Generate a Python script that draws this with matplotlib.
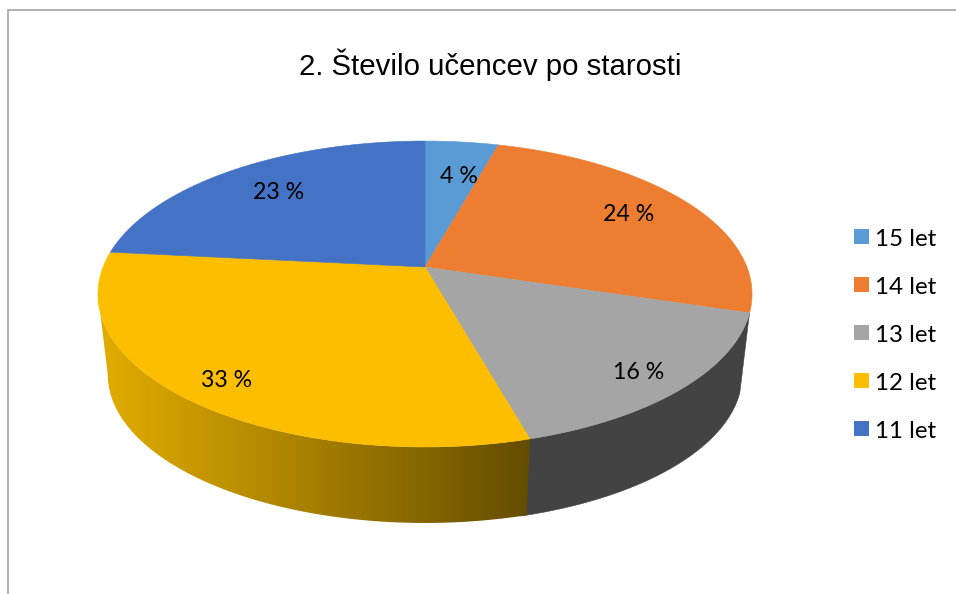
import numpy as np
import matplotlib
matplotlib.use('Agg')
import matplotlib.pyplot as plt
from matplotlib.patches import Polygon, Rectangle

# slices in drawing order, clockwise from the top
categories = ['15 let', '14 let', '13 let', '12 let', '11 let']
shares = [4, 24, 16, 33, 23]
colors = ['#5B9BD5', '#ED7D31', '#A5A5A5', '#FDBE00', '#4472C4']
title = '2. Število učencev po starosti'

# how far out along the slice each label sits (0 = centre, 1 = rim)
label_radius = [0.72, 0.76, 0.86, 0.86, 0.73]
# small nudge in pixels on top of that
label_dx = [6, 0, -2, 5, 1]
label_dy = [3.5, -2.5, 2.5, 3.5, -2.5]

# tilted pie: apex and rim in pixels of the picture
cx, cy = 425, 267
rx_base, ry_base = 321.9, 148.2
persp = 0.1765
depth_y = 81.4
depth_scale = 0.97


def warp(theta):
    # office 3d pies do not keep the angles, this follows what it draws
    t = np.radians(theta)
    return theta + 3.5 * np.sin(t) + 2.5 * (1 - np.cos(t)) + 0.3 * np.sin(2 * t)


def project(theta, r=1.0, bottom=False):
    t = np.radians(warp(np.asarray(theta, dtype=float)))
    x, y = r * np.sin(t), r * np.cos(t)
    w = 1 + persp * y
    sx, sy = rx_base * x / w, -ry_base * y / w
    if bottom:
        return cx + depth_scale * sx, cy + depth_y + depth_scale * sy
    return cx + sx, cy + sy


fig = plt.figure(figsize=(9.56, 5.94), dpi=100)
ax = fig.add_axes([0, 0, 1, 1])
ax.set_xlim(0, 956)
ax.set_ylim(594, 0)
ax.axis('off')

# frame of the chart, only top and left are in the crop
ax.plot([8, 8, 956], [594, 9.5, 9.5], color='#A3A3A3', lw=1.2, solid_joinstyle='miter')

edges = np.cumsum([0] + shares) * 3.6


def wall_poly(t0, t1, stop_left=False):
    th = np.linspace(t0, t1, 400)
    xt, yt = project(th)
    xb, yb = project(th, bottom=True)
    it, ib = len(th), len(th)
    if stop_left:
        # past the left extreme the wall is hidden behind the top face
        it, ib = np.argmin(xt) + 1, np.argmin(xb) + 1
    return np.column_stack([np.r_[xt[:it], xb[:ib][::-1]], np.r_[yt[:it], yb[:ib][::-1]]])


# side walls, only 13 let and 12 let face the viewer
grey_wall = Polygon(wall_poly(edges[2], edges[3] + 1), fc='#434343', ec='#434343', lw=0.4)
ax.add_patch(grey_wall)

yellow_wall = Polygon(wall_poly(edges[3], edges[4], stop_left=True), fc='none', ec='none')
ax.add_patch(yellow_wall)
grad_x = np.linspace(98, 531, 300)
grad_r = np.interp(grad_x, [98, 300, 531], [226, 170, 100]) / 255
grad_g = grad_r * 0.765
grad = np.dstack([grad_r, grad_g, np.zeros_like(grad_r)])
im = ax.imshow(grad, extent=(98, 531, 594, 0), aspect='auto', zorder=2)
im.set_clip_path(yellow_wall)
ax.set_xlim(0, 956)
ax.set_ylim(594, 0)

# top face
for i, c in enumerate(colors):
    th = np.linspace(edges[i], edges[i + 1], 200)
    xs, ys = project(th)
    pts = np.column_stack([np.r_[cx, xs], np.r_[cy, ys]])
    ax.add_patch(Polygon(pts, fc=c, ec=c, lw=0.4, zorder=3))

# data labels
for i, s in enumerate(shares):
    mid = (edges[i] + edges[i + 1]) / 2
    lx, ly = project(mid, label_radius[i])
    ax.text(lx + label_dx[i], ly + label_dy[i], f'{s} %', ha='center', va='center',
            family='Lato', fontsize=16.7, color='black', zorder=4)

ax.text(490, 65, title, ha='center', va='center', family='Liberation Sans',
        fontsize=21.2, color='black')

# legend
for i, (name, c) in enumerate(zip(categories, colors)):
    y = 236.5 + 48 * i
    ax.add_patch(Rectangle((854, y - 7.5), 15, 15, fc=c, ec='none'))
    ax.text(875, y + 3, name, ha='left', va='center', family='Lato', fontsize=17.4, color='black')

plt.savefig('out.png', dpi=100)
